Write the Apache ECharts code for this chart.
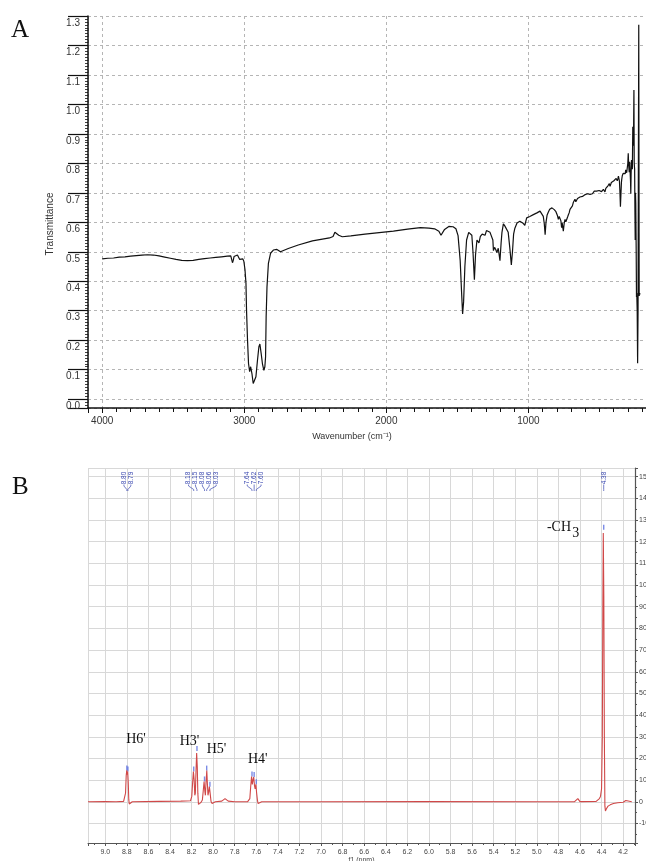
<!DOCTYPE html>
<html>
<head>
<meta charset="utf-8">
<title>IR and 1H NMR spectra</title>
<script src="https://cdn.jsdelivr.net/npm/echarts@6/dist/echarts.min.js"></script>
<style>
html, body { margin: 0; padding: 0; background: #fff; }
#main { width: 646px; height: 861px; }
</style>
</head>
<body>
<div id="main"></div>
<script>
// A: IR spectrum, [wavenumber cm-1, transmittance]
var irSpectrum = [
    [4000, 0.476], [3960, 0.478], [3920, 0.479], [3880, 0.482], [3840, 0.483], [3800, 0.485],
    [3760, 0.487], [3720, 0.489], [3680, 0.490], [3640, 0.489], [3600, 0.486], [3560, 0.482],
    [3520, 0.478], [3480, 0.474], [3440, 0.471], [3400, 0.470], [3360, 0.471], [3320, 0.474],
    [3280, 0.477], [3240, 0.479], [3200, 0.481], [3160, 0.483], [3120, 0.485], [3095, 0.486],
    [3088, 0.480], [3083, 0.463], [3078, 0.470], [3072, 0.484], [3060, 0.490], [3048, 0.489],
    [3040, 0.484], [3032, 0.474], [3025, 0.470], [3018, 0.478], [3010, 0.476], [3003, 0.468],
    [2995, 0.440], [2988, 0.393], [2984, 0.302], [2977, 0.200], [2970, 0.121], [2962, 0.093],
    [2955, 0.110], [2946, 0.087], [2937, 0.053], [2928, 0.048], [2918, 0.076], [2907, 0.132],
    [2897, 0.178], [2890, 0.187], [2881, 0.155], [2872, 0.120], [2862, 0.098], [2855, 0.110],
    [2850, 0.144], [2846, 0.279], [2840, 0.381], [2830, 0.461], [2815, 0.495], [2795, 0.506],
    [2770, 0.508], [2745, 0.500], [2720, 0.505], [2690, 0.511], [2620, 0.523], [2520, 0.537],
    [2460, 0.542], [2400, 0.547], [2375, 0.552], [2362, 0.566], [2350, 0.562], [2335, 0.556],
    [2310, 0.551], [2250, 0.554], [2150, 0.560], [2050, 0.565], [1950, 0.570], [1850, 0.577],
    [1760, 0.582], [1700, 0.580], [1660, 0.578], [1630, 0.570], [1615, 0.556], [1605, 0.560],
    [1590, 0.576], [1560, 0.586], [1530, 0.585], [1510, 0.578], [1495, 0.555], [1480, 0.470],
    [1470, 0.360], [1463, 0.289], [1456, 0.330], [1447, 0.450], [1435, 0.540], [1420, 0.566],
    [1408, 0.569], [1398, 0.556], [1390, 0.500], [1380, 0.405], [1372, 0.490], [1362, 0.540],
    [1348, 0.530], [1338, 0.552], [1325, 0.560], [1315, 0.566], [1305, 0.556], [1295, 0.572],
    [1282, 0.567], [1270, 0.566], [1258, 0.572], [1250, 0.540], [1246, 0.504], [1238, 0.515],
    [1230, 0.508], [1222, 0.497], [1212, 0.512], [1200, 0.470], [1192, 0.530], [1186, 0.566],
    [1176, 0.595], [1166, 0.588], [1155, 0.590], [1142, 0.566], [1130, 0.510], [1120, 0.455],
    [1112, 0.500], [1104, 0.560], [1095, 0.580], [1080, 0.598], [1060, 0.604], [1040, 0.598],
    [1025, 0.590], [1012, 0.615], [990, 0.620], [965, 0.626], [940, 0.632], [918, 0.638],
    [905, 0.637], [895, 0.620], [888, 0.595], [882, 0.558], [876, 0.600], [868, 0.625],
    [860, 0.634], [850, 0.644], [842, 0.640], [834, 0.649], [826, 0.650], [818, 0.643],
    [812, 0.645], [806, 0.636], [801, 0.638], [795, 0.622], [789, 0.610], [783, 0.620],
    [777, 0.626], [771, 0.605], [766, 0.582], [762, 0.598], [758, 0.600], [754, 0.570],
    [748, 0.596], [742, 0.610], [736, 0.602], [730, 0.600], [724, 0.618], [719, 0.625],
    [713, 0.632], [707, 0.644], [701, 0.640], [696, 0.650], [690, 0.656], [684, 0.667],
    [678, 0.671], [672, 0.678], [666, 0.670], [660, 0.676], [654, 0.681], [648, 0.684],
    [643, 0.679], [637, 0.686], [631, 0.684], [625, 0.680], [619, 0.688], [614, 0.690],
    [607, 0.686], [600, 0.694], [595, 0.688], [590, 0.691], [584, 0.697], [578, 0.698],
    [572, 0.692], [566, 0.695], [560, 0.701], [555, 0.700], [549, 0.697], [543, 0.703],
    [536, 0.706], [530, 0.700], [525, 0.703], [520, 0.706], [514, 0.710], [508, 0.704],
    [502, 0.708], [496, 0.709], [490, 0.713], [485, 0.704], [478, 0.709], [472, 0.712],
    [466, 0.708], [461, 0.703], [455, 0.715], [450, 0.720], [445, 0.716], [440, 0.724],
    [435, 0.727], [430, 0.731], [425, 0.722], [420, 0.728], [416, 0.735], [412, 0.737],
    [407, 0.730], [403, 0.735], [398, 0.741], [394, 0.745], [389, 0.737], [385, 0.742],
    [382, 0.749], [379, 0.750], [374, 0.741], [370, 0.748], [366, 0.757], [362, 0.755],
    [359, 0.740], [356, 0.709], [352, 0.653], [348, 0.700], [345, 0.735], [343, 0.745],
    [339, 0.758], [336, 0.752], [333, 0.766], [330, 0.760], [327, 0.772], [324, 0.770],
    [321, 0.760], [318, 0.765], [315, 0.778], [312, 0.776], [308, 0.768], [305, 0.780],
    [300, 0.800], [297, 0.834], [294, 0.795], [290, 0.770], [287, 0.805], [284, 0.811],
    [281, 0.740], [279, 0.697], [277, 0.760], [274, 0.811], [271, 0.790], [268, 0.780],
    [265, 0.924], [262, 0.860], [259, 0.930], [257, 1.049], [255, 0.800], [252, 0.780],
    [250, 0.640], [248, 0.540], [246, 0.700], [244, 0.665], [241, 0.500], [239, 0.347],
    [237, 0.360], [234, 0.300], [231, 0.122], [228, 0.300], [226, 0.700], [223, 1.270],
    [220, 0.350], [217, 0.360], [214, 0.355]
];
var irXLabels = ['4000', '3000', '2000', '1000'];
var irYLabels = ['0.0', '0.1', '0.2', '0.3', '0.4', '0.5', '0.6', '0.7', '0.8', '0.9', '1.0', '1.1', '1.2', '1.3'];

// B: 1H NMR spectrum, [shift ppm, intensity]
var nmrSpectrum = [
    [9.16, 0.0], [9.00, 0.1], [8.90, 0.0], [8.83, 0.2], [8.82, 0.8], [8.812, 4.0],
    [8.806, 12.0], [8.801, 14.5], [8.797, 12.5], [8.792, 14.0], [8.787, 9.0], [8.782, 1.0],
    [8.777, -1.0], [8.768, -0.6], [8.75, 0.0], [8.50, 0.2], [8.30, 0.3], [8.21, 0.5],
    [8.198, 2.5], [8.190, 9.0], [8.183, 14.0], [8.176, 10.0], [8.170, 3.0], [8.165, 4.0],
    [8.159, 14.0], [8.153, 22.5], [8.147, 16.0], [8.142, 4.0], [8.136, -1.2], [8.128, -1.3],
    [8.115, -0.4], [8.100, 0.8], [8.092, 5.0], [8.084, 9.4], [8.077, 5.0], [8.072, 3.0],
    [8.066, 9.0], [8.059, 14.4], [8.053, 8.0], [8.048, 3.0], [8.042, 4.5], [8.035, 7.0],
    [8.028, 4.0], [8.020, 0.3], [8.010, -0.8], [7.995, -0.4], [7.98, 0.0], [7.92, 0.3],
    [7.89, 1.5], [7.86, 0.3], [7.80, 0.0], [7.68, 0.1], [7.66, 1.5], [7.652, 7.0],
    [7.644, 11.7], [7.637, 8.0], [7.631, 10.0], [7.624, 11.4], [7.617, 7.5], [7.611, 6.0],
    [7.604, 8.1], [7.597, 4.0], [7.589, 0.5], [7.583, -0.8], [7.57, -0.4], [7.55, 0.0],
    [7.00, 0.0], [6.00, 0.1], [5.00, 0.0], [4.65, 0.1], [4.62, 1.5], [4.60, 0.1],
    [4.45, 0.2], [4.42, 1.5], [4.41, 2.5], [4.40, 6.0], [4.393, 30.0], [4.388, 90.0],
    [4.384, 124.0], [4.379, 95.0], [4.374, 30.0], [4.369, -2.0], [4.364, -4.2], [4.355, -3.2],
    [4.34, -2.0], [4.32, -1.4], [4.29, -0.8], [4.25, -0.4], [4.20, -0.2], [4.175, 0.6],
    [4.16, 0.1], [4.12, 0.0]
];
var peakGroups = [[8.80, 8.79], [8.18, 8.15, 8.08, 8.06, 8.03], [7.64, 7.62, 7.60], [4.38]];
var peakHeights = [[14.5, 14.0], [14.0, 23.5, 9.4, 14.4, 7.0], [11.7, 11.4, 8.1], [125.5]];
var protonLabels = ["H6'", "H3'", "H5'", "H4'"];
var nmrXLabels = ['9.0', '8.8', '8.6', '8.4', '8.2', '8.0', '7.8', '7.6', '7.4', '7.2', '7.0', '6.8', '6.6',
    '6.4', '6.2', '6.0', '5.8', '5.6', '5.4', '5.2', '5.0', '4.8', '4.6', '4.4', '4.2'];
var nmrYLabels = ['-10', '0', '10', '20', '30', '40', '50', '60', '70', '80', '90', '100',
    '110', '120', '130', '140', '150'];

var sans = '"Liberation Sans", Arial, sans-serif';
var serif = '"Liberation Serif", "Times New Roman", serif';

function labelFrom(list, digits) { // only show the values that are in the list
    return function (v) {
        var s = digits ? v.toFixed(digits) : String(Math.round(v));
        return list.indexOf(s) >= 0 ? s : '';
    };
}

// peak pick labels: [ppm, group centre, index in group, group size]
var peakLabelData = [];
var peakTips = [];
peakGroups.forEach(function (g, gi) {
    var c = 0;
    g.forEach(function (p) { c += p; });
    c = c / g.length;
    g.forEach(function (p, k) {
        peakLabelData.push([p, c, k, g.length]);
        peakTips.push([p, peakHeights[gi][k]]);
    });
});

function renderPeakLabel(params, api) {
    var ppm = api.value(0);
    var peakX = api.coord([ppm, 0])[0];
    var cx = api.coord([api.value(1), 0])[0];
    var x = cx + (api.value(2) - (api.value(3) - 1) / 2) * 6.9;
    var top = params.coordSys.y;
    return {
        type: 'group',
        children: [{
            type: 'text', x: x, y: top + 10, rotation: Math.PI / 2,
            style: { text: ppm.toFixed(2), fill: '#3a48b0', font: '6.5px ' + sans, align: 'center', verticalAlign: 'middle' }
        }, {
            type: 'polyline',
            shape: { points: [[x, top + 16.5], [x, top + 18], [peakX, top + 21.5], [peakX, top + 23]] },
            style: { stroke: '#3a48b0', lineWidth: 0.7, fill: null }
        }]
    };
}

var chart = echarts.init(document.getElementById('main'));
var option = {
    animation: false,
    backgroundColor: '#ffffff',
    graphic: [
        { type: 'text', left: 11, top: 18, style: { text: 'A', font: '25px ' + serif, fill: '#111' } },
        { type: 'text', left: 12, top: 475, style: { text: 'B', font: '25px ' + serif, fill: '#111' } }
    ],
    grid: [
        { left: 88, top: 16, width: 558, height: 392, containLabel: false, outerBoundsMode: 'none' },
        { left: 88, top: 468, width: 547, height: 375, containLabel: false, outerBoundsMode: 'none' }
    ],
    xAxis: [{
        gridIndex: 0, type: 'value', inverse: true, min: 172, max: 4100,
        splitNumber: 4, minInterval: 1000, maxInterval: 1000,
        axisLine: { show: true, onZero: false, lineStyle: { color: '#111', width: 1.5 } },
        axisTick: { show: true, length: 5, lineStyle: { color: '#111' } },
        minorTick: { show: true, splitNumber: 10, length: 4, lineStyle: { color: '#111' } },
        axisLabel: { margin: 8, color: '#333', fontFamily: sans, fontSize: 10, showMinLabel: false, showMaxLabel: false,
            formatter: labelFrom(irXLabels, 0) },
        splitLine: { show: true, lineStyle: { color: '#b5b5b5', type: [3, 3], width: 1 } },
        name: 'Wavenumber (cm\u207B\u00B9)', nameLocation: 'middle', nameGap: 24,
        nameTextStyle: { color: '#333', fontFamily: sans, fontSize: 9, padding: [0, 30, 0, 0] }
    }, {
        gridIndex: 1, type: 'value', inverse: true, min: 4.09, max: 9.16,
        splitNumber: 25, minInterval: 0.2, maxInterval: 0.2,
        axisLine: { show: true, onZero: false, lineStyle: { color: '#555', width: 1 } },
        axisTick: { show: true, length: 3, lineStyle: { color: '#555' } },
        minorTick: { show: true, splitNumber: 2, length: 2, lineStyle: { color: '#555' } },
        axisLabel: { margin: 6, color: '#444', fontFamily: sans, fontSize: 7, showMinLabel: false, showMaxLabel: false,
            formatter: labelFrom(nmrXLabels, 1) },
        splitLine: { show: true, lineStyle: { color: '#d8d8d8', width: 1 } },
        name: 'f1 (ppm)', nameLocation: 'middle', nameGap: 14,
        nameTextStyle: { color: '#444', fontFamily: sans, fontSize: 7 }
    }],
    yAxis: [{
        gridIndex: 0, type: 'value', min: -0.03, max: 1.3,
        splitNumber: 13, minInterval: 0.1, maxInterval: 0.1,
        axisLine: { show: true, onZero: false, lineStyle: { color: '#111', width: 1.5 } },
        axisTick: { show: true, length: 20, lineStyle: { color: '#111', width: 1.2 } },
        minorTick: { show: true, splitNumber: 10, length: 3, lineStyle: { color: '#111', width: 0.8 } },
        axisLabel: { margin: 8, color: '#333', fontFamily: sans, fontSize: 10, verticalAlign: 'top',
            padding: [2, 0, 0, 0], showMinLabel: false, formatter: labelFrom(irYLabels, 1) },
        splitLine: { show: true, lineStyle: { color: '#b5b5b5', type: [3, 3], width: 1 } },
        name: 'Transmittance', nameLocation: 'middle', nameGap: 26,
        nameTextStyle: { color: '#333', fontFamily: sans, fontSize: 10, padding: [0, 24, 0, 0] }
    }, {
        gridIndex: 1, type: 'value', position: 'right', min: -19, max: 154,
        splitNumber: 17, minInterval: 10, maxInterval: 10,
        axisLine: { show: true, onZero: false, lineStyle: { color: '#555', width: 1.2 } },
        axisTick: { show: true, length: 3, lineStyle: { color: '#555' } },
        minorTick: { show: true, splitNumber: 2, length: 2, lineStyle: { color: '#555' } },
        axisLabel: { margin: 4, color: '#444', fontFamily: sans, fontSize: 7, showMinLabel: false, showMaxLabel: false,
            formatter: labelFrom(nmrYLabels, 0) },
        splitLine: { show: true, lineStyle: { color: '#d8d8d8', width: 1 } }
    }],
    series: [{
        name: 'IR', type: 'line', xAxisIndex: 0, yAxisIndex: 0,
        data: irSpectrum, showSymbol: false, symbol: 'none',
        lineStyle: { color: '#111', width: 1.2 }
    }, {
        name: 'NMR', type: 'line', xAxisIndex: 1, yAxisIndex: 1,
        data: nmrSpectrum, showSymbol: false, symbol: 'none',
        lineStyle: { color: '#d04848', width: 1.1 },
        markPoint: {
            symbol: 'circle', symbolSize: 0, silent: true,
            label: { show: true, position: 'inside', formatter: '{b}', color: '#111', fontFamily: serif, fontSize: 14 },
            data: [
                { name: protonLabels[0], coord: [8.715, 28.6] },
                { name: protonLabels[1], coord: [8.219, 28.1] },
                { name: protonLabels[2], coord: [7.969, 24.0] },
                { name: protonLabels[3], coord: [7.587, 19.4] },
                { name: '-CH', coord: [4.795, 126.8] },
                { name: '3', coord: [4.640, 123.8] }
            ]
        }
    }, {
        name: 'tips', type: 'scatter', xAxisIndex: 1, yAxisIndex: 1,
        data: peakTips, symbol: 'rect', symbolSize: [1.4, 5], symbolOffset: [0, -2.5],
        itemStyle: { color: '#5a6ee0', opacity: 0.8 }, silent: true
    }, {
        name: 'peak labels', type: 'custom', xAxisIndex: 1, yAxisIndex: 1,
        data: peakLabelData, renderItem: renderPeakLabel, clip: false, silent: true
    }]
};
chart.setOption(option);
</script>
</body>
</html>
